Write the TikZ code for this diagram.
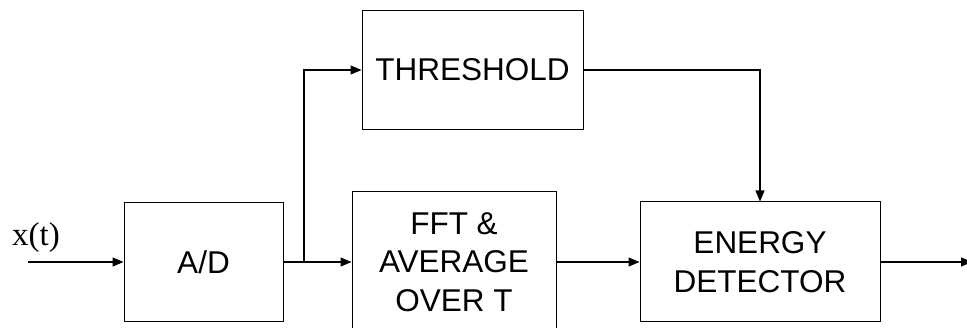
\documentclass[tikz,border=0pt]{standalone}
\usepackage{fontspec}
\setmainfont{Liberation Sans}
\newfontfamily\serifx{Liberation Serif}
\usetikzlibrary{arrows.meta}
\begin{document}
\begin{tikzpicture}[x=1pt,y=-1pt]
\tikzstyle{every node}=[font=\fontsize{31.5}{38.5}\selectfont]
\tikzstyle{block}=[draw,line width=1pt,inner sep=0pt,align=center]
\tikzstyle{wire}=[line width=1.2pt]
\tikzstyle{sig}=[wire,-{Triangle[length=11pt,width=9pt]}]
\clip (0,0) rectangle (967,328);
% blocks
\node[block,minimum width=159,minimum height=119] (ad) at (203.5,262) {A/D};
\node[block,minimum width=221,minimum height=119] (thr) at (472.5,70) {THRESHOLD};
\node[block,minimum width=204,minimum height=140] (fft) at (454,262) {FFT \&\\AVERAGE\\OVER T};
\node[block,minimum width=240,minimum height=120] (en) at (760,262) {ENERGY\\DETECTOR};
% signals
\node[font=\serifx\fontsize{33}{35}\selectfont] (xt) at (36,238) {x(t)};
\coordinate (in) at (28,262);
\coordinate (br) at (304,262);
\coordinate (out) at (972,262);
\draw[sig] (in) -- (ad.west);
\draw[wire] (ad.east) -- (br);
\draw[sig] (br) -- (fft.west);
\draw[sig] (br) |- (thr.west);
\draw[sig] (fft.east) -- (en.west);
\draw[sig] (thr.east) -| (en.north);
\draw[sig] (en.east) -- (out);
\end{tikzpicture}
\end{document}
